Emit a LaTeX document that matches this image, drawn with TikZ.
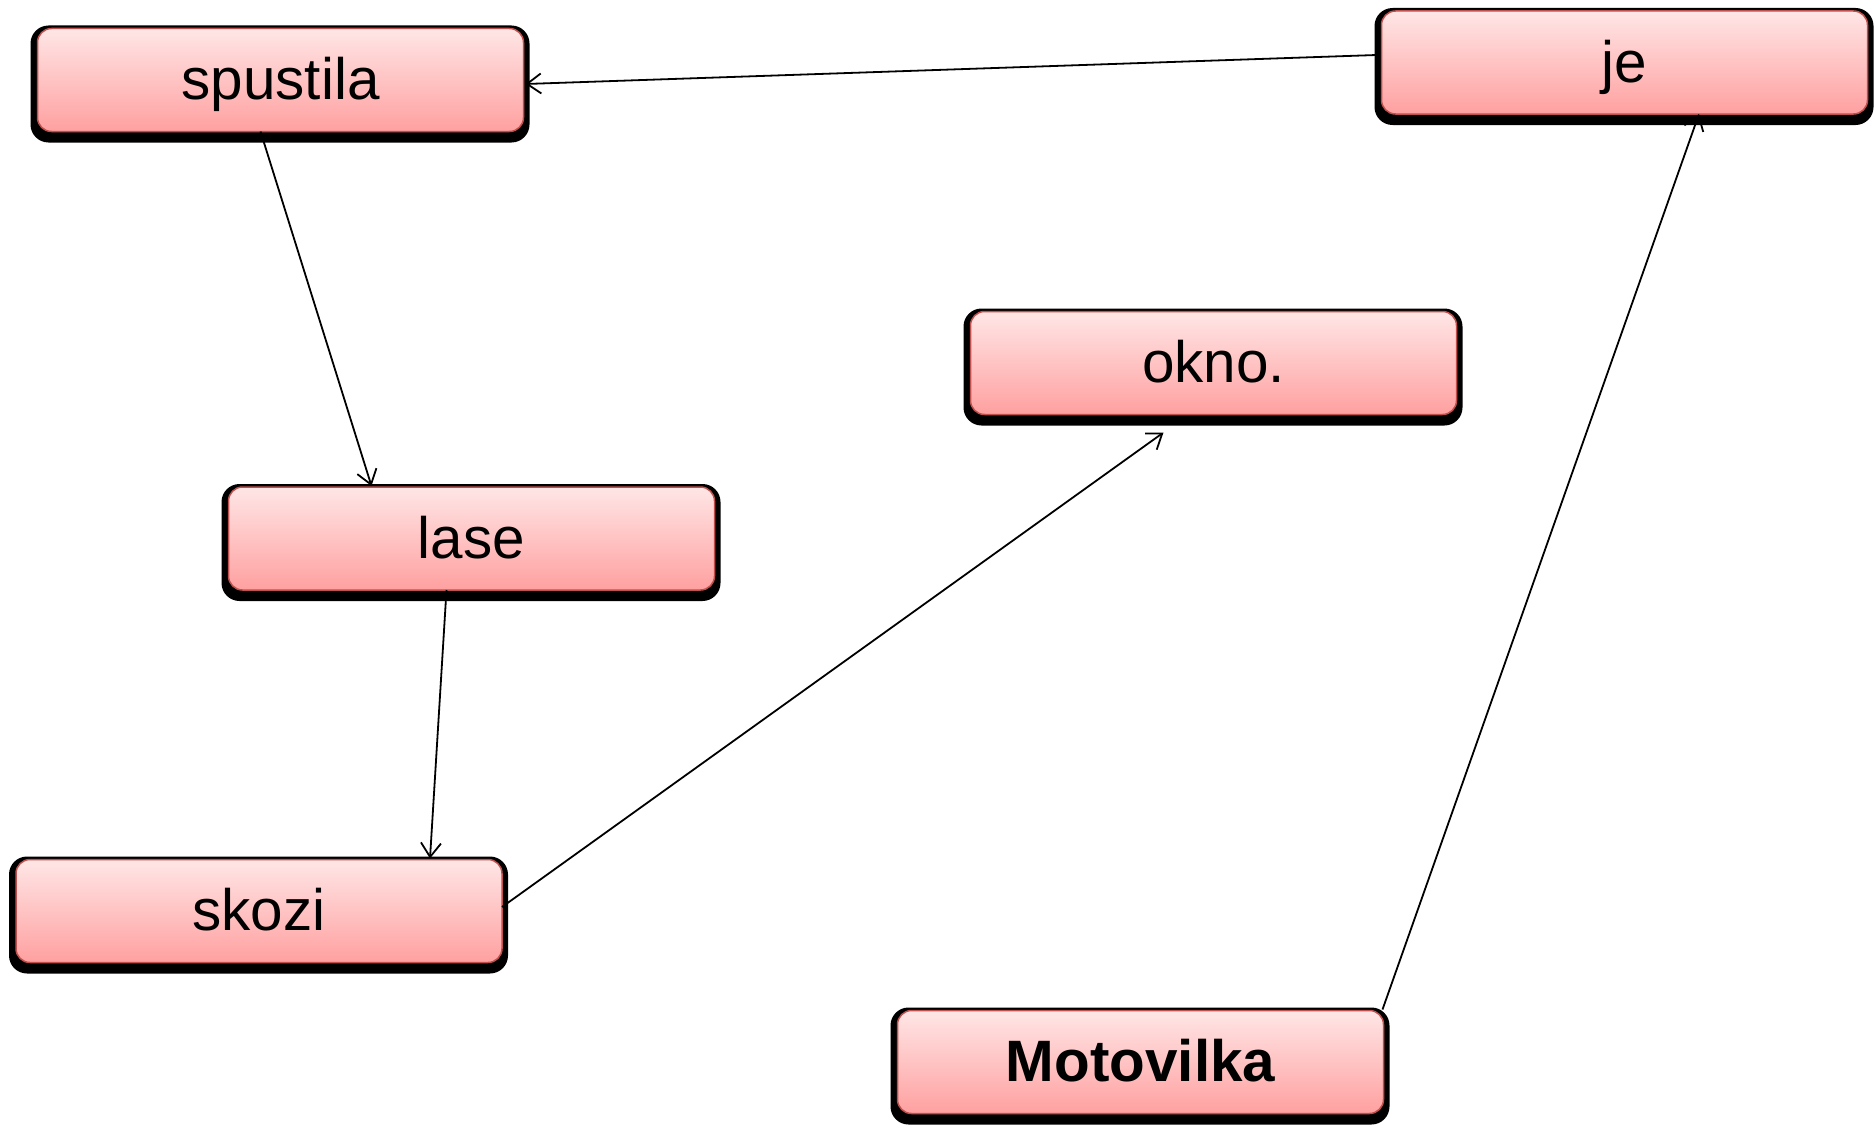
\documentclass[tikz,border=0pt]{standalone}
\usepackage{fontspec}
\setmainfont{Liberation Sans}
\usetikzlibrary{arrows.meta,calc,backgrounds}
\definecolor{boxtop}{HTML}{FFE6E6}
\definecolor{boxbot}{HTML}{FFA0A0}
\definecolor{boxline}{HTML}{C0504D}
\tikzset{
  wordbox/.style={rectangle, rounded corners=14pt, draw=boxline, line width=1.5pt,
    top color=boxtop, bottom color=boxbot, minimum width=486pt, minimum height=103pt,
    inner sep=0pt, outer sep=0pt, text height=39pt, text depth=0pt,
    font=\fontsize{58.4}{70}\selectfont},
  conn/.style={line width=1.8pt, -{Straight Barb[length=14pt,width=20pt,line width=1.8pt]}},
  shadowbox/.style={fill=black, rounded corners=18pt}
}
\begin{document}
\begin{tikzpicture}[x=1pt,y=-1pt]
\useasboundingbox (0,0) rectangle (1876,1124);
\node[wordbox] (spustila) at (280.5,80) {spustila};
\node[wordbox] (je) at (1624.5,62.5) {je};
\node[wordbox] (okno) at (1213.5,363) {okno.};
\node[wordbox] (lase) at (471.5,538.5) {lase};
\node[wordbox] (skozi) at (259,911) {skozi};
\node[wordbox, font=\fontsize{58.4}{70}\selectfont\bfseries] (moto) at (1140.5,1062) {Motovilka};
\begin{scope}[on background layer]
\foreach \n in {spustila,je,okno,lase,skozi,moto}
  \fill[shadowbox] ($(\n.north west)+(-7,-3)$) rectangle ($(\n.south east)+(6,11)$);
\end{scope}
\draw[conn] ($(je.west)+(-5,-7.5)$) -- ($(spustila.east)+(2,4)$);
\draw[conn] ($(spustila.south)+(-20,0)$) -- ($(lase.north)+(-100,-1)$);
\draw[conn] ($(lase.south)+(-25,0)$) -- ($(skozi.north)+(171,-1)$);
\draw[conn] ($(skozi.east)+(0,-4)$) -- ($(okno.south)+(-50,18)$);
\draw[conn] ($(moto.north east)+(-1,-1)$) -- ($(je.south)+(74.5,0)$);
\end{tikzpicture}
\end{document}
